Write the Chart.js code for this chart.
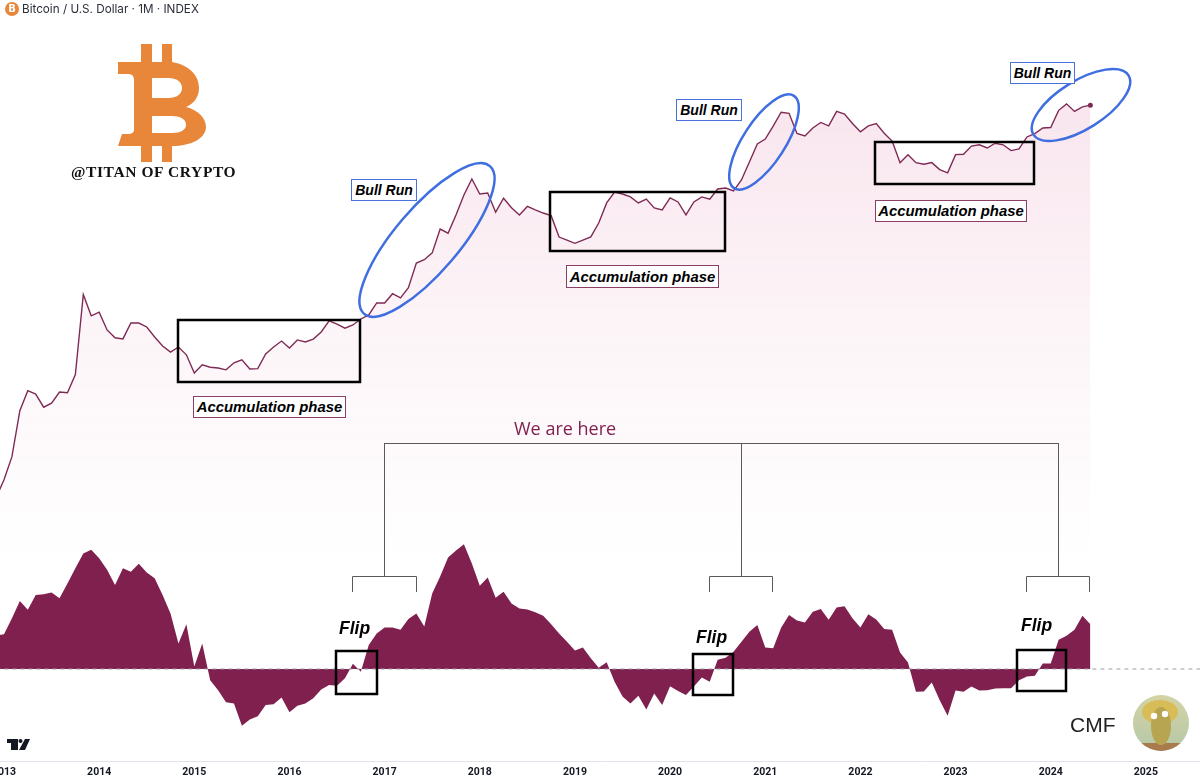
<!DOCTYPE html>
<html>
<head>
<meta charset="utf-8">
<script src="https://cdn.jsdelivr.net/npm/chart.js@4"></script>
<style>
    html, body { margin: 0; padding: 0; background: #fff; width: 1200px; height: 779px; overflow: hidden; }
    #btc-chart { position: absolute; left: -40px; top: 0; }
    .txt { position: absolute; white-space: nowrap; font-family: "Liberation Sans", sans-serif; }
    .tag { position: absolute; box-sizing: border-box; background: #fff; border: 1px solid #8a3f68; color: #000;
           font: italic bold 14.9px "Liberation Sans", sans-serif; display: flex; align-items: center; justify-content: center; }
    .tag.blue { border-color: #4a72dc; font-size: 14px; }
    .flip { position: absolute; font: italic bold 17.5px "Liberation Sans", sans-serif; color: #000; }
</style>
</head>
<body>
<canvas id="btc-chart" width="1280" height="779"></canvas>

<div class="txt" id="title" style="left:22px;top:2px;font:11.7px/15px Inter,sans-serif;color:#2a2e39">Bitcoin / U.S. Dollar · 1M · INDEX</div>
<div class="txt" style="left:71px;top:163px;font:bold 15.5px/18px 'Liberation Serif',serif;letter-spacing:.6px;color:#111">@TITAN OF CRYPTO</div>
<div class="txt" style="left:514px;top:417px;font:18px/22px 'Open Sans',sans-serif;color:#80204f">We are here</div>
<div class="txt" style="left:1070px;top:712px;font:21px/25px 'Liberation Sans',sans-serif;color:#222">CMF</div>

<div class="tag" style="left:193px;top:396px;width:153px;height:22px">Accumulation phase</div>
<div class="tag" style="left:566px;top:265px;width:153px;height:23px">Accumulation phase</div>
<div class="tag" style="left:875px;top:200px;width:152px;height:22px">Accumulation phase</div>
<div class="tag blue" style="left:351px;top:179px;width:66px;height:22px">Bull Run</div>
<div class="tag blue" style="left:676px;top:99px;width:66px;height:22px">Bull Run</div>
<div class="tag blue" style="left:1010px;top:62px;width:65px;height:22px">Bull Run</div>

<div class="flip" style="left:339px;top:618px">Flip</div>
<div class="flip" style="left:696px;top:627px">Flip</div>
<div class="flip" style="left:1021px;top:615px">Flip</div>

<script>
// Monthly closes in USD, Dec 2012 first, then one row per year up to Jun 2024
const prices = [
    13.5,
    20, 33, 90, 139, 129, 97, 106, 135, 133, 198, 1130, 710,
    770, 522, 440, 430, 607, 607, 557, 448, 368, 322, 360, 304,
    204, 244, 232, 228, 219, 255, 272, 223, 225, 310, 360, 410,
    353, 420, 402, 428, 500, 636, 594, 543, 582, 663, 725, 940,
    940, 1150, 1050, 1310, 2240, 2410, 2800, 4700, 4300, 6400, 9870, 14000,
    10100, 10300, 6800, 9200, 7500, 6400, 7700, 7130, 6670, 6300, 3950, 3700,
    3450, 3700, 3970, 5360, 8310, 10550, 10100, 9480, 8310, 9040, 7450, 7130,
    9260, 8490, 6400, 8490, 9480, 9040, 11260, 11500, 10800, 13700, 20300, 30000,
    33400, 44400, 60000, 58500, 37700, 35700, 42500, 48000, 44500, 61000, 57500, 47000,
    39200, 44500, 46800, 38000, 32000, 20000, 23800, 20000, 19300, 20000, 17200, 16000,
    23800, 24000, 28700, 29500, 27500, 30500, 29500, 26000, 27000, 35000, 37700, 42500,
    43000, 62500, 72000, 61000, 67500, 70000
];

// Chaikin Money Flow, same months
const cmf = [
    .084,
    .087, .127, .17, .148, .185, .187, .191, .177, .214, .252, .289, .298,
    .277, .248, .21, .252, .243, .263, .241, .227, .185, .139, .064, .112,
    .006, .064, -.028, -.053, -.083, -.086, -.142, -.126, -.118, -.09, -.088, -.071,
    -.108, -.092, -.086, -.073, -.051, -.04, -.042, -.023, .013, -.007, .06, .089,
    .104, .104, .098, .125, .139, .106, .189, .231, .279, .296, .312, .264,
    .208, .229, .178, .193, .164, .151, .149, .142, .133, .112, .089, .068,
    .046, .054, .027, .003, .017, -.032, -.069, -.086, -.067, -.101, -.061, -.09,
    -.043, -.055, -.065, -.044, -.021, -.032, .023, .028, .043, .068, .093, .11,
    .054, .052, .103, .135, .121, .116, .143, .15, .123, .154, .157, .127,
    .104, .137, .124, .1, .098, .041, .016, -.057, -.056, -.034, -.078, -.117,
    -.054, -.057, -.044, -.054, -.053, -.049, -.048, -.048, -.028, -.019, -.017, .014,
    .014, .073, .083, .098, .133, .112
];

const years = ['2013', '2014', '2015', '2016', '2017', '2018', '2019', '2020', '2021', '2022', '2023', '2024', '2025'];

const LINE_COLOR = '#7f2a55';
const CMF_COLOR = '#80204f';
const BLUE = '#3f6ee0';

// Drawing is in window pixels, the canvas sits 40px further left so 2013 gets cut like the original
const OFFSET = 40;

function drawLogo(ctx) {
    const b = new Path2D('M118 62H141V44H152V62H162V44H172V62C190 65 199 76 199 88C199 98 193 104 186 107C198 110 206 118 206 127C206 138 192 146 172 146V162H162V146H152V162H141V146H118L122 134H128C132 134 134 132 134 130V80C134 76 132 74 128 74H118Z' +
        'M152 78V98H168C177 98 182 94 182 88C182 82 177 78 168 78Z' +
        'M152 116V133H172C181 133 186 130 186 124.5C186 119 180 116 172 116Z');
    ctx.fillStyle = '#e8873a';
    ctx.fill(b, 'evenodd');

    // little coin in the header
    ctx.beginPath();
    ctx.arc(12, 9, 7, 0, Math.PI * 2);
    ctx.fill();
    ctx.fillStyle = '#fff';
    ctx.font = 'bold 10px "DejaVu Sans"';
    ctx.textAlign = 'center';
    ctx.textBaseline = 'middle';
    ctx.fillText('B', 12, 9.5);
}

function drawBrackets(ctx) {
    ctx.strokeStyle = '#5a5a5a';
    ctx.lineWidth = 1;
    const big = [384, 741, 1058];
    ctx.beginPath();
    ctx.moveTo(big[0], 443.5);
    ctx.lineTo(big[2], 443.5);
    big.forEach(x => { ctx.moveTo(x + .5, 443); ctx.lineTo(x + .5, 576); });
    [[352, 416], [709, 772], [1026, 1089]].forEach(([a, b]) => {
        ctx.moveTo(a + .5, 592);
        ctx.lineTo(a + .5, 576.5);
        ctx.lineTo(b + .5, 576.5);
        ctx.lineTo(b + .5, 592);
    });
    ctx.stroke();
}

function drawBoxes(ctx) {
    ctx.strokeStyle = '#000';
    ctx.lineWidth = 2.5;
    [[178, 320, 182, 62], [550, 192, 175, 59], [875, 142, 159, 42],
     [336, 651, 41, 43], [693, 654, 40, 41], [1017, 650, 49, 41]].forEach(r => ctx.strokeRect(...r));
}

function drawEllipses(ctx) {
    ctx.strokeStyle = BLUE;
    ctx.lineWidth = 2.5;
    [[427, 240, 97, 32, -49.6], [764, 142, 55, 21, -57], [1081, 105, 56, 24, -32]].forEach(([x, y, a, b, deg]) => {
        ctx.beginPath();
        ctx.ellipse(x, y, a, b, deg * Math.PI / 180, 0, Math.PI * 2);
        ctx.stroke();
    });
}

function drawTvLogo(ctx) {
    ctx.fillStyle = '#131722';
    ctx.fillRect(7, 739, 11, 4);
    ctx.fillRect(11, 739, 7, 11);
    ctx.beginPath();
    ctx.arc(20.5, 741, 2, 0, Math.PI * 2);
    ctx.fill();
    ctx.beginPath();
    ctx.moveTo(25, 739);
    ctx.lineTo(30, 739);
    ctx.lineTo(25, 750);
    ctx.lineTo(19, 750);
    ctx.closePath();
    ctx.fill();
}

function drawAvatar(ctx) {
    const cx = 1161, cy = 723, r = 28;
    ctx.save();
    ctx.beginPath();
    ctx.arc(cx, cy, r, 0, Math.PI * 2);
    ctx.clip();
    const sky = ctx.createLinearGradient(0, cy - r, 0, cy + r);
    sky.addColorStop(0, '#d4d3a4');
    sky.addColorStop(1, '#b4c8a8');
    ctx.fillStyle = sky;
    ctx.fillRect(cx - r, cy - r, 2 * r, 2 * r);
    ctx.fillStyle = '#a87a4c';
    ctx.fillRect(cx - r, cy + 20, 2 * r, 10);
    ctx.fillStyle = '#d8bc58';
    ctx.beginPath();
    ctx.ellipse(cx - 1, cy - 11, 18, 12, 0, 0, Math.PI * 2);
    ctx.fill();
    ctx.fillStyle = '#b7a552';
    ctx.beginPath();
    ctx.ellipse(cx, cy + 3, 10, 19, 0, 0, Math.PI * 2);
    ctx.fill();
    ctx.fillStyle = '#fff';
    [[-7, -7], [4, -9]].forEach(([dx, dy]) => {
        ctx.beginPath();
        ctx.arc(cx + dx, cy + dy, 3.2, 0, Math.PI * 2);
        ctx.fill();
    });
    ctx.restore();
}

const overlayPlugin = {
    id: 'overlay',
    afterDatasetsDraw(chart) {
        const ctx = chart.ctx;
        ctx.save();
        ctx.translate(OFFSET, 0);
        drawLogo(ctx);
        drawBrackets(ctx);
        drawBoxes(ctx);
        drawEllipses(ctx);
        drawTvLogo(ctx);
        drawAvatar(ctx);
        ctx.restore();
    }
};

function areaFill(context) {
    const c = context.chart.ctx;
    const g = c.createLinearGradient(0, 90, 0, 560);
    g.addColorStop(0, 'rgba(205,50,115,0.13)');
    g.addColorStop(0.5, 'rgba(205,50,115,0.05)');
    g.addColorStop(1, 'rgba(205,50,115,0)');
    return g;
}

// first entry is Dec 2012, so month index starts one before the 2013 tick
const toPoints = arr => arr.map((v, i) => ({ x: i - 1, y: v }));

new Chart(document.getElementById('btc-chart'), {
    type: 'line',
    data: {
        datasets: [
            {
                data: toPoints(cmf),
                yAxisID: 'yCmf',
                borderWidth: 0,
                backgroundColor: CMF_COLOR,
                fill: 'origin',
                pointRadius: 0,
                order: 3
            },
            {
                data: [{ x: -6, y: 0 }, { x: 156, y: 0 }],
                yAxisID: 'yCmf',
                borderColor: '#9a9ea8',
                borderWidth: 1,
                borderDash: [4, 4],
                pointRadius: 0,
                order: 2
            },
            {
                data: toPoints(prices),
                yAxisID: 'y',
                borderColor: LINE_COLOR,
                borderWidth: 1.4,
                backgroundColor: areaFill,
                fill: 'start',
                tension: 0,
                pointRadius: ctx => ctx.dataIndex === prices.length - 1 ? 2.5 : 0,
                pointBackgroundColor: LINE_COLOR,
                pointBorderWidth: 0,
                order: 1
            }
        ]
    },
    options: {
        responsive: false,
        animation: false,
        layout: { padding: 0, autoPadding: false },
        plugins: { legend: { display: false }, tooltip: { enabled: false } },
        scales: {
            x: {
                type: 'linear',
                min: -5.549,
                max: 155.87,
                grid: { display: false, drawTicks: false },
                border: { color: '#e0e3eb' },
                afterFit: scale => { scale.height = 18; },
                afterBuildTicks: scale => { scale.ticks = years.map((y, i) => ({ value: i * 12 })); },
                ticks: {
                    autoSkip: false,
                    maxRotation: 0,
                    padding: 5,
                    color: '#131722',
                    font: { family: 'Roboto', size: 10.5, weight: 'bold' },
                    callback: value => years[value / 12]
                }
            },
            y: {
                type: 'logarithmic',
                display: false,
                bounds: 'data',
                min: 0.04357,
                max: 691600
            },
            yCmf: {
                type: 'linear',
                display: false,
                min: -0.23,
                max: 1.6725
            }
        }
    },
    plugins: [overlayPlugin]
});
</script>
</body>
</html>
